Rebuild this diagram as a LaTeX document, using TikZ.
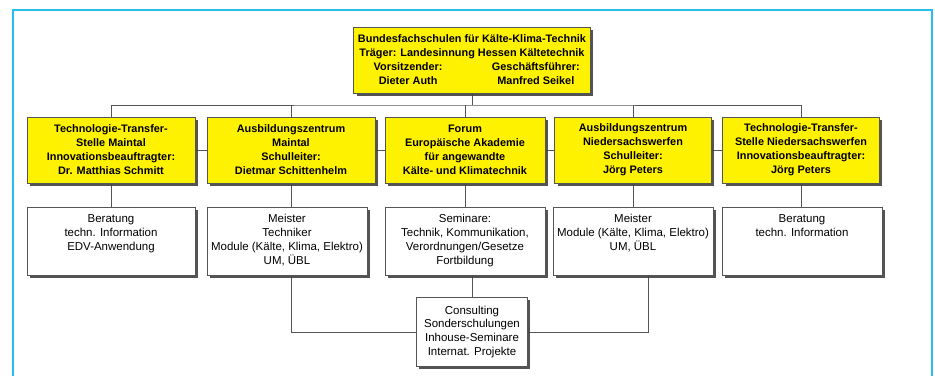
\documentclass[tikz,border=0pt]{standalone}
\usepackage{fontspec}
\setmainfont{Liberation Sans}
\usetikzlibrary{shadows,backgrounds}

\definecolor{boxyellow}{RGB}{255,242,0}
\definecolor{framecyan}{RGB}{40,190,240}
\definecolor{linegray}{RGB}{85,85,85}

\tikzset{
	orgbox/.style={draw=linegray, line width=0.5pt, inner sep=0pt,
		drop shadow={shadow xshift=2.5pt, shadow yshift=-2.5pt, fill=black!75, opacity=0.9}},
	yellowbox/.style={orgbox, fill=boxyellow, align=center, minimum height=1.98cm,
		font=\fontsize{9.3}{11.9}\selectfont\bfseries},
	whitebox/.style={orgbox, fill=white, inner ysep=0.07cm, align=center, minimum height=2.04cm,
		font=\fontsize{9.8}{11.9}\selectfont},
	link/.style={draw=linegray, line width=0.8pt}
}
\newcommand{\tasktext}[1]{\parbox[c][1.9cm][t]{4.6cm}{\centering\rule{0pt}{11.5pt}#1}}

\begin{document}
\begin{tikzpicture}[x=0.03cm, y=-0.03cm]
	\useasboundingbox (0,0) rectangle (935,376);
	\draw[framecyan, line width=1.7pt] (13,376) -- (13,10) -- (932,10) -- (932,376);

	% head
	\node[yellowbox, minimum width=7.1cm] (bfs) at (472,60) {Bundesfachschulen für Kälte-Klima-Technik\\Träger: Landesinnung Hessen Kältetechnik\\\makebox[0pt]{Vorsitzender:}\hspace{109pt}\makebox[0pt]{Geschäftsführer:}\\\makebox[0pt]{Dieter Auth}\hspace{109pt}\makebox[0pt]{Manfred Seikel}};

	% sites
	\node[yellowbox, minimum width=5.04cm] (ttMaintal) at (111,150) {Technologie-Transfer-\\Stelle Maintal\\Innovationsbeauftragter:\\Dr. Matthias Schmitt};
	\node[yellowbox, minimum width=5.04cm] (azMaintal) at (291,150) {Ausbildungszentrum\\Maintal\\Schulleiter:\\Dietmar Schittenhelm};
	\node[yellowbox, minimum width=4.8cm] (forum) at (465,150) {Forum\\Europäische Akademie\\für angewandte\\Kälte- und Klimatechnik};
	\node[yellowbox, minimum width=4.7cm] (azNieder) at (633,150) {Ausbildungszentrum\\Niedersachswerfen\\Schulleiter:\\Jörg Peters};
	\node[yellowbox, minimum width=4.7cm] (ttNieder) at (801,150) {Technologie-Transfer-\\Stelle Niedersachswerfen\\Innovationsbeauftragter:\\Jörg Peters};

	% tasks
	\node[whitebox, minimum width=5.04cm] (ttMaintal-tasks) at (111,241) {\tasktext{Beratung\\techn. Information\\EDV-Anwendung}};
	\node[whitebox, minimum width=4.8cm] (azMaintal-tasks) at (287,241) {\tasktext{Meister\\Techniker\\Module (Kälte, Klima, Elektro)\\UM, ÜBL}};
	\node[whitebox, minimum width=4.8cm] (forum-tasks) at (465,241) {\tasktext{Seminare:\\Technik, Kommunikation,\\Verordnungen/Gesetze\\Fortbildung}};
	\node[whitebox, minimum width=4.8cm] (azNieder-tasks) at (633,241) {\tasktext{Meister\\Module (Kälte, Klima, Elektro)\\UM, ÜBL}};
	\node[whitebox, minimum width=4.8cm] (ttNieder-tasks) at (802,241) {\tasktext{Beratung\\techn. Information}};

	\node[whitebox, minimum width=3.33cm, minimum height=2.07cm] (consult) at (472,332) {Consulting\\Sonderschulungen\\Inhouse-Seminare\\Internat. Projekte};

	\begin{scope}[on background layer]
		\coordinate (bus) at (472,105);
		\draw[link] (bfs) -- (bus);
		\draw[link] (ttMaintal.north) |- (bus) -| (ttNieder.north);
		\foreach \n in {azMaintal, forum, azNieder}
			\draw[link] (\n.north) -- (\n.north |- bus);
		\draw[link] (ttMaintal) -- (ttNieder);
		\foreach \n in {ttMaintal, azMaintal, forum, azNieder, ttNieder}
			\draw[link] (\n.south) -- (\n.south |- \n-tasks.north);
		\draw[link] (azMaintal-tasks.south -| azMaintal.south) |- (consult.west);
		\draw[link] (consult.north) -- (consult.north |- forum-tasks.south);
		\draw[link] ([xshift=0.45cm]azNieder-tasks.south) |- (consult.east);
	\end{scope}
\end{tikzpicture}
\end{document}
